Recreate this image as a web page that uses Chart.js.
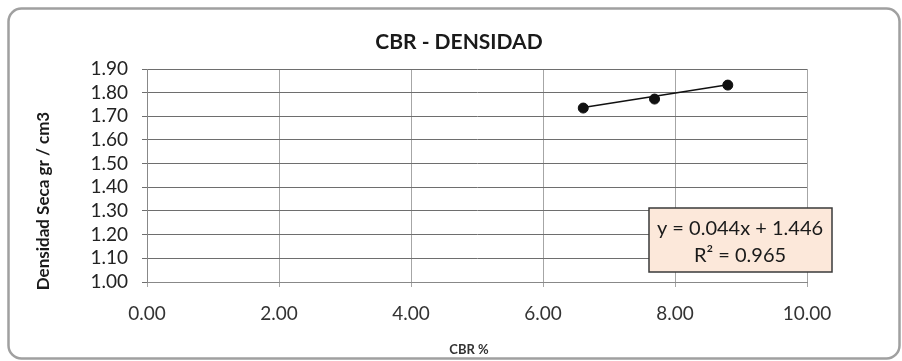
<!DOCTYPE html>
<html>
<head>
<meta charset="utf-8">
<script src="https://cdn.jsdelivr.net/npm/chart.js@4.4.1/dist/chart.umd.min.js"></script>
<style>
  html, body { margin: 0; padding: 0; background: #fff; }
  #wrap { width: 902px; height: 361px; position: relative; }
</style>
</head>
<body>
<div id="wrap"><canvas id="grafico" width="902" height="361"></canvas></div>
<script>
// datos
const cbr = [6.61, 7.69, 8.80];
const densidad = [1.735, 1.773, 1.832];
// extremos de la linea de tendencia
const tendenciaX = [6.61, 8.80];
const tendenciaY = [1.737, 1.833];
const titulo = "CBR - DENSIDAD";
const tituloY = "Densidad Seca gr / cm3";
const tituloX = "CBR %";
const ecuacion = ["y = 0.044x + 1.446", "R² = 0.965"];

const FONT = "Lato, 'DejaVu Sans', sans-serif";

// marco redondeado y fondo
const marco = {
  id: "marco",
  beforeDraw(chart) {
    const ctx = chart.ctx;
    ctx.save();
    ctx.fillStyle = "#fff";
    ctx.fillRect(0, 0, chart.width, chart.height);
    ctx.beginPath();
    ctx.roundRect(8.5, 8.5, 891, 350, 13);
    ctx.strokeStyle = "#a0a0a0";
    ctx.lineWidth = 2.5;
    ctx.stroke();
    ctx.restore();
  },
};

// titulos y cuadro de la ecuacion
const extras = {
  id: "extras",
  afterDraw(chart) {
    const ctx = chart.ctx;
    ctx.save();
    ctx.fillStyle = "#1a1a1a";
    ctx.textAlign = "center";
    ctx.textBaseline = "middle";
    ctx.font = "bold 21px " + FONT;
    ctx.fillText(titulo, 459, 42);
    ctx.font = "bold 13px " + FONT;
    ctx.fillStyle = "#333";
    ctx.fillText(tituloX, 469, 350);
    // titulo eje y
    ctx.translate(44, 201);
    ctx.rotate(-Math.PI / 2);
    ctx.font = "bold 17px " + FONT;
    ctx.fillStyle = "#1a1a1a";
    ctx.fillText(tituloY, 0, 0);
    ctx.restore();

    // cuadro ecuacion
    ctx.save();
    ctx.fillStyle = "#fce8da";
    ctx.strokeStyle = "#3a3a3a";
    ctx.lineWidth = 1.5;
    ctx.fillRect(649, 208, 183, 64);
    ctx.strokeRect(649, 208, 183, 64);
    ctx.fillStyle = "#1a1a1a";
    ctx.font = "20px " + FONT;
    ctx.textAlign = "center";
    ctx.textBaseline = "middle";
    ctx.fillText(ecuacion[0], 740, 229);
    ctx.fillText(ecuacion[1], 740, 256);
    ctx.restore();
  },
};

const ctx = document.getElementById("grafico");

new Chart(ctx, {
  type: "scatter",
  data: {
    datasets: [
      {
        label: "Densidad",
        data: cbr.map((x, i) => ({ x: x, y: densidad[i] })),
        backgroundColor: "#111",
        borderColor: "#111",
        pointRadius: 5,
        showLine: false,
      },
      {
        label: "Tendencia",
        data: tendenciaX.map((x, i) => ({ x: x, y: tendenciaY[i] })),
        borderColor: "#111",
        borderWidth: 1.5,
        pointRadius: 0,
        showLine: true,
      },
    ],
  },
  options: {
    responsive: false,
    animation: false,
    devicePixelRatio: 1,
    layout: { padding: { left: 0, right: 95, top: 69, bottom: 0 } },
    plugins: {
      legend: { display: false },
      tooltip: { enabled: false },
      title: { display: false },
    },
    scales: {
      x: {
        type: "linear",
        min: 0,
        max: 10,
        ticks: {
          stepSize: 2,
          color: "#333",
          font: { family: FONT, size: 19 },
          padding: 15,
          callback: (v) => v.toFixed(2),
        },
        grid: { color: "#a6a6a6", lineWidth: 1, tickLength: 5 },
        border: { color: "#888", width: 1 },
        afterFit(scale) {
          scale.height = 361 - 282;
        },
      },
      y: {
        type: "linear",
        min: 1.0,
        max: 1.9,
        ticks: {
          stepSize: 0.1,
          autoSkip: false,
          color: "#222",
          font: { family: FONT, size: 19, lineHeight: 1 },
          padding: 14,
          callback: (v) => v.toFixed(2),
        },
        grid: { color: "#6e6e6e", lineWidth: 1, tickLength: 5 },
        border: { color: "#888", width: 1 },
        afterFit(scale) {
          scale.width = 147;
        },
      },
    },
  },
  plugins: [marco, extras],
});
</script>
</body>
</html>
